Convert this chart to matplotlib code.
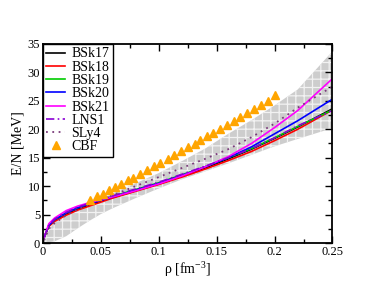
"""
neutron matter energy per particle, BSk functionals vs others
"""

import numpy as np
import matplotlib
matplotlib.use('Agg')
from matplotlib import pyplot as plt

plt.rcParams['font.family'] = ['Liberation Serif', 'DejaVu Serif']
plt.rcParams['mathtext.fontset'] = 'custom'
plt.rcParams['mathtext.rm'] = 'Liberation Serif'
plt.rcParams['hatch.color'] = '#f2f2f2'
plt.rcParams['hatch.linewidth'] = 0.9

# densities [fm^-3]
rho = [0.001, 0.005, 0.01, 0.02, 0.03, 0.04, 0.05, 0.06, 0.08, 0.10,
       0.12, 0.14, 0.16, 0.18, 0.20, 0.22, 0.25]

bsk17 = [1.0, 3.0, 4.0, 5.1, 6.0, 6.7, 7.4, 8.0, 9.2, 10.4,
         11.8, 13.2, 14.8, 16.5, 18.4, 20.4, 23.6]
bsk18 = [1.0, 2.9, 3.8, 4.9, 5.8, 6.5, 7.2, 7.9, 9.1, 10.3,
         11.6, 13.0, 14.5, 16.1, 18.0, 20.0, 23.4]
bsk19 = [1.0, 3.1, 4.1, 5.3, 6.2, 6.9, 7.6, 8.2, 9.4, 10.6,
         12.0, 13.4, 15.0, 16.6, 18.5, 20.5, 23.4]
bsk20 = [1.0, 3.1, 4.1, 5.3, 6.2, 6.9, 7.5, 8.1, 9.3, 10.5,
         11.9, 13.4, 15.0, 16.9, 19.2, 21.5, 25.3]
bsk21 = [1.0, 3.4, 4.4, 5.7, 6.5, 7.1, 7.6, 8.1, 9.2, 10.4,
         11.8, 13.4, 15.2, 17.5, 20.3, 23.3, 28.9]
lns1 = [1.0, 3.1, 4.2, 5.4, 6.3, 7.0, 7.7, 8.3, 9.5, 10.7,
        12.1, 13.5, 15.0, 16.6, 18.5, 20.6, 23.3]
sly4 = [0.5, 2.5, 3.5, 4.9, 5.9, 6.8, 7.6, 8.4, 10.0, 11.6,
        13.2, 14.8, 16.5, 18.6, 21.0, 23.8, 27.5]

# uncertainty band
band_rho = [0.0, 0.01, 0.02, 0.03, 0.04, 0.05, 0.06, 0.08, 0.10, 0.12,
            0.14, 0.16, 0.18, 0.20, 0.22, 0.25]
band_lo = [0.0, 0.3, 1.2, 2.6, 3.9, 5.1, 6.1, 7.9, 9.6, 11.2,
           12.6, 14.0, 15.5, 17.0, 18.3, 20.2]
band_hi = [0.5, 3.8, 5.0, 6.0, 6.8, 7.8, 8.7, 10.5, 12.3, 14.4,
           16.6, 19.2, 21.6, 24.2, 27.0, 33.7]

# CBF points
cbf_rho = [0.041, 0.047, 0.052, 0.057, 0.062, 0.067, 0.073, 0.078, 0.084, 0.090,
           0.096, 0.101, 0.108, 0.113, 0.119, 0.125, 0.131, 0.136, 0.142, 0.147,
           0.153, 0.159, 0.165, 0.170, 0.176, 0.182, 0.188, 0.194, 0.200]
cbf_e = [7.6, 8.2, 8.7, 9.3, 9.9, 10.4, 11.1, 11.5, 12.2, 12.8,
         13.5, 14.1, 14.8, 15.4, 16.1, 16.8, 17.4, 18.2, 18.9, 19.4,
         20.0, 20.7, 21.4, 22.1, 22.8, 23.6, 24.3, 25.0, 26.1]

fig = plt.figure(figsize=(3.74, 2.89), dpi=100)
ax = fig.add_axes([0.115, 0.159, 0.774, 0.689])

ax.fill_between(band_rho, band_lo, band_hi, facecolor='#cdcdcd',
                edgecolor='#f2f2f2', hatch='++', linewidth=0)

ax.plot(rho, bsk17, color='black', lw=1.2, label='BSk17')
ax.plot(rho, bsk18, color='red', lw=1.2, label='BSk18')
ax.plot(rho, bsk19, color='#00cc00', lw=1.2, label='BSk19')
ax.plot(rho, bsk20, color='blue', lw=1.2, label='BSk20')
ax.plot(rho, bsk21, color='magenta', lw=1.2, label='BSk21')
ax.plot(rho, lns1, color='#8a00d4', lw=1.2, dashes=[5, 2, 1, 2], label='LNS1')
ax.plot(rho, sly4, color='#7a3a7a', lw=1.3, linestyle=(0, (1, 2.5)), label='SLy4')
ax.plot(cbf_rho, cbf_e, linestyle='none', marker='^', color='orange',
        markersize=5.5, label='CBF')

ax.set_xlim(0, 0.25)
ax.set_ylim(0, 35)
ax.set_xticks([0, 0.05, 0.1, 0.15, 0.2, 0.25])
ax.set_xticklabels(['0', '0.05', '0.1', '0.15', '0.2', '0.25'])
ax.set_xticks(np.arange(0.025, 0.25, 0.05), minor=True)
ax.set_yticks(range(0, 36, 5))
ax.set_yticks(np.arange(2.5, 35, 5), minor=True)
ax.tick_params(which='both', direction='in', top=True, right=True,
               labelsize=9, width=1.0, pad=2)
ax.tick_params(which='major', length=5)
ax.tick_params(which='minor', length=3)
for sp in ax.spines.values():
    sp.set_linewidth(1.3)

ax.set_xlabel(r'ρ [fm$^{\mathregular{-3}}$]', fontsize=10, labelpad=1)
ax.set_ylabel('E/N [MeV]', fontsize=10, labelpad=2)

leg = ax.legend(loc='upper left', borderaxespad=0, fontsize=10,
                handlelength=1.3, handletextpad=0.5, labelspacing=0.02,
                borderpad=0.25, fancybox=False, framealpha=1)
leg.get_frame().set_edgecolor('black')
leg.get_frame().set_linewidth(1.0)

plt.savefig('out.png', dpi=100)
